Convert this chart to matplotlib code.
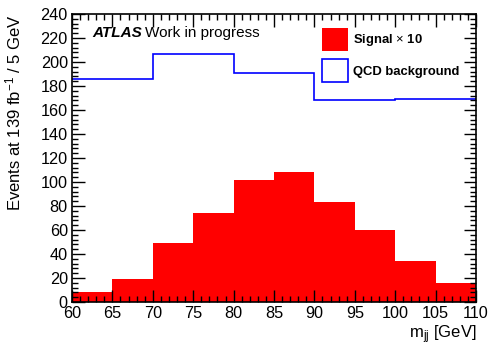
import numpy as np
import matplotlib
matplotlib.use("Agg")
import matplotlib.pyplot as plt
from matplotlib.patches import Patch
from matplotlib.ticker import MultipleLocator

plt.rcParams['font.family'] = ['Liberation Sans', 'DejaVu Sans']
plt.rcParams['mathtext.fontset'] = 'custom'
plt.rcParams['mathtext.rm'] = 'Liberation Sans'
plt.rcParams['mathtext.it'] = 'Liberation Sans:italic'

# signal x10, 5 GeV bins
sig_edges = np.arange(60, 111, 5)
sig_vals = [8.3, 19.5, 49, 74, 102, 108.5, 83, 59.7, 33.8, 16.2]
# QCD background, 10 GeV bins
bkg_edges = np.arange(60, 111, 10)
bkg_vals = [185.5, 207, 190.5, 168, 169.5]

fig = plt.figure(figsize=(4.91, 3.54), dpi=100)
ax = fig.add_axes([0.1466, 0.147, 0.8229, 0.8135])

ax.stairs(sig_vals, sig_edges, fill=True, color='#ff0000', lw=0)
ax.stairs(bkg_vals, bkg_edges, color='#0000ff', lw=1.2, baseline=None)

ax.set_xlim(60, 110)
ax.set_ylim(0, 240)
ax.xaxis.set_major_locator(MultipleLocator(5))
ax.xaxis.set_minor_locator(MultipleLocator(1))
ax.yaxis.set_major_locator(MultipleLocator(20))
ax.yaxis.set_minor_locator(MultipleLocator(4))
ax.tick_params(which='both', direction='in', top=True, right=True, labelsize=11.7, width=1)
ax.tick_params(which='major', length=9, pad=3)
ax.tick_params(which='minor', length=4.5)
for s in ax.spines.values():
    s.set_linewidth(1.2)

ax.set_xlabel(r'm$_{\mathregular{jj}}$ [GeV]', fontsize=12, loc='right')
ax.xaxis.set_label_coords(1.0, -0.075)
ax.set_ylabel(r'Events at 139 fb$^{\mathregular{-1}}$ / 5 GeV', fontsize=12, loc='top')
ax.yaxis.set_label_coords(-0.121, 1.0)

ax.text(0.05, 0.935, 'ATLAS', transform=ax.transAxes, fontsize=11,
        fontweight='bold', fontstyle='italic', va='center')
ax.text(0.18, 0.935, 'Work in progress', transform=ax.transAxes, fontsize=11, va='center')

handles = [Patch(facecolor='#ff0000', edgecolor='#ff0000', lw=0),
           Patch(facecolor='white', edgecolor='#0000ff', lw=1.2)]
ax.legend(handles, [r'Signal $\times$ 10', 'QCD background'], loc='upper left',
          bbox_to_anchor=(0.619, 0.951), frameon=False, prop={'weight': 'bold', 'size': 9.4},
          handlelength=2.0, handleheight=2.3, labelspacing=0.65, handletextpad=0.35,
          borderaxespad=0, borderpad=0)

fig.savefig('out.png', dpi=100)
